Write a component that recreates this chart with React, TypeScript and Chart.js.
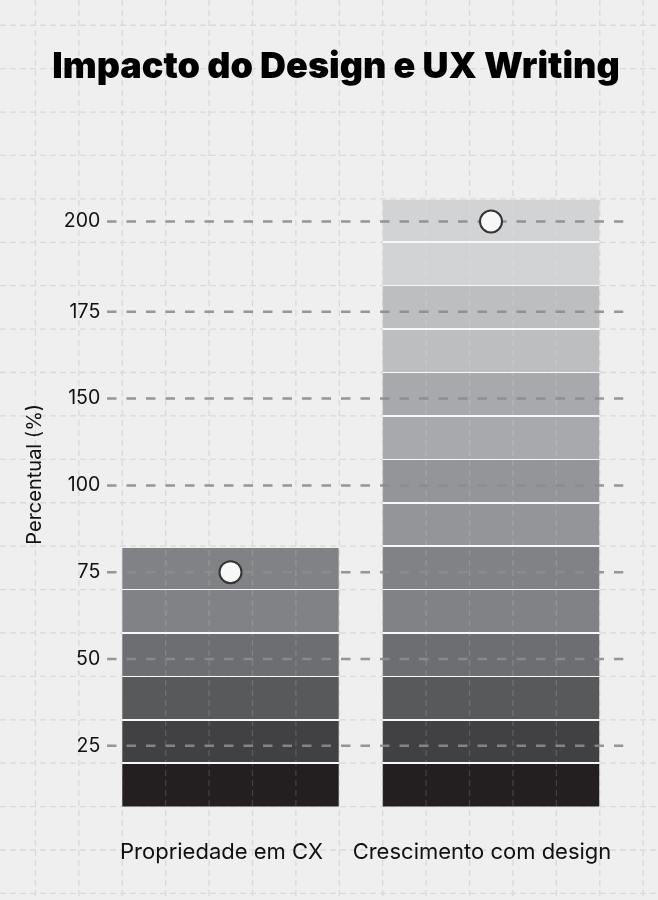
import React, { useEffect, useRef } from 'react';
import { Chart, registerables, LinearScale } from 'chart.js';

// ---- data ----
const categories = ['Propriedade em CX', 'Crescimento com design'];
const barValues = [82, 206];
const markerValues = [75, 200];
const yTickLabels = [25, 50, 75, 100, 150, 175, 200];
// slot (evenly spaced axis position) that each tick label occupies on the axis
const yTickSlots = [1, 2, 3, 4, 5, 6, 7.04];
const bandColors = [
  '#231f20', '#414042', '#58595b', '#6d6e71', '#808285', '#808285', '#939598',
  '#939598', '#a7a9ac', '#a7a9ac', '#bcbec0', '#bcbec0', '#d1d3d4', '#d1d3d4',
];
const bandStep = 12.5;
const yAxisMin = 7.5;
const yAxisMax = 222;
const SLOT = 25;

const FONT = 'Inter, "Noto Sans", sans-serif';

function toPos(v: number): number {
  const xs = yTickLabels;
  const ys = yTickSlots.map((s) => s * SLOT);
  let i = 0;
  while (i < xs.length - 2 && v > xs[i + 1]) i++;
  return ys[i] + ((v - xs[i]) * (ys[i + 1] - ys[i])) / (xs[i + 1] - xs[i]);
}
function fromPos(p: number): number {
  const xs = yTickLabels;
  const ys = yTickSlots.map((s) => s * SLOT);
  let i = 0;
  while (i < ys.length - 2 && p > ys[i + 1]) i++;
  return xs[i] + ((p - ys[i]) * (xs[i + 1] - xs[i])) / (ys[i + 1] - ys[i]);
}

class PiecewiseScale extends LinearScale {
  static id = 'piecewise';
  static defaults = LinearScale.defaults;
  buildTicks() {
    return yTickLabels.map((value) => ({ value }));
  }
  getPixelForValue(value: any) {
    if (value === null || value === undefined || Number.isNaN(value)) return NaN;
    return super.getPixelForValue(toPos(value));
  }
  getValueForPixel(pixel: number) {
    return fromPos(super.getValueForPixel(pixel));
  }
}

Chart.register(...registerables, PiecewiseScale as any);

function bandGeometry(chart: any) {
  const y = chart.scales.y;
  const bottom = y.getPixelForValue(yAxisMin);
  const h = bottom - y.getPixelForValue(yAxisMin + bandStep);
  return { bottom, h };
}

function bandFill(context: any) {
  const chart = context.chart;
  const { ctx, chartArea } = chart;
  if (!chartArea || !chart.scales.y) return bandColors[0];
  const { bottom, h } = bandGeometry(chart);
  const n = bandColors.length;
  const total = n * h;
  const g = ctx.createLinearGradient(0, bottom, 0, bottom - total);
  const s = 0.8 / total;
  bandColors.forEach((c, i) => {
    const a = i / n + (i > 0 ? s : 0);
    const b = (i + 1) / n - (i < n - 1 ? s : 0);
    g.addColorStop(a, c);
    g.addColorStop(b, c);
    if (i < n - 1) {
      g.addColorStop(b, '#f7f7f7');
      g.addColorStop((i + 1) / n + s, '#f7f7f7');
    }
  });
  return g;
}

function drawPaper(ctx: CanvasRenderingContext2D, x0: number, y0: number, h: number, w: number, H: number, color: string) {
  ctx.strokeStyle = color;
  ctx.lineWidth = 1.3;
  ctx.setLineDash([6, 4]);
  for (let x = x0 - Math.ceil(x0 / h) * h; x <= w; x += h) {
    ctx.beginPath();
    ctx.moveTo(x, 0);
    ctx.lineTo(x, H);
    ctx.stroke();
  }
  for (let y = y0 - Math.ceil(y0 / h) * h; y <= H; y += h) {
    ctx.beginPath();
    ctx.moveTo(0, y);
    ctx.lineTo(w, y);
    ctx.stroke();
  }
}

function paperAnchor(chart: any) {
  const { bottom, h } = bandGeometry(chart);
  const el: any = chart.getDatasetMeta(0).data[0];
  const x0 = el ? el.x - el.width / 2 : chart.chartArea.left;
  return { x0, y0: bottom, h };
}

const decor = {
  id: 'decor',
  beforeDraw(chart: any) {
    const { ctx, width, height } = chart;
    ctx.save();
    ctx.fillStyle = '#efefef';
    ctx.fillRect(0, 0, width, height);
    const { x0, y0, h } = paperAnchor(chart);
    drawPaper(ctx, x0, y0, h, width, height, '#d9d9d9');
    ctx.restore();
  },
  afterDatasetDraw(chart: any, args: any) {
    if (args.index !== 0) return;
    const { ctx, width, height, chartArea } = chart;
    const { x0, y0, h } = paperAnchor(chart);
    chart.getDatasetMeta(0).data.forEach((el: any) => {
      ctx.save();
      ctx.beginPath();
      const bot = Math.min(el.base, chartArea.bottom);
      ctx.rect(el.x - el.width / 2, el.y, el.width, bot - el.y);
      ctx.clip();
      drawPaper(ctx, x0, y0, h, width, height, 'rgba(255,255,255,0.15)');
      ctx.restore();
    });
    const y = chart.scales.y;
    ctx.save();
    ctx.strokeStyle = 'rgba(140,140,140,0.9)';
    ctx.lineWidth = 2.5;
    ctx.setLineDash([9.5, 10]);
    ctx.lineDashOffset = 12.75;
    y.ticks.forEach((_t: any, i: number) => {
      const py = y.getPixelForTick(i);
      ctx.beginPath();
      ctx.moveTo(chartArea.left, py);
      ctx.lineTo(chartArea.right + 2, py);
      ctx.stroke();
    });
    ctx.restore();
  },
};

export default function App() {
  const ref = useRef<HTMLCanvasElement | null>(null);
  useEffect(() => {
    if (!ref.current) return;
    const chart = new Chart(ref.current, {
      type: 'bar',
      data: {
        labels: categories,
        datasets: [
          {
            type: 'bar',
            data: barValues,
            backgroundColor: bandFill as any,
            borderWidth: 0,
            barPercentage: 0.831,
            categoryPercentage: 1,
            order: 1,
          } as any,
          {
            type: 'line',
            data: markerValues,
            showLine: false,
            pointRadius: 11,
            pointHoverRadius: 11,
            pointBorderWidth: 2,
            pointBorderColor: '#333333',
            pointBackgroundColor: '#f7f7f7',
            order: 0,
          } as any,
        ],
      },
      options: {
        responsive: true,
        maintainAspectRatio: false,
        animation: false,
        layout: { padding: { left: 14, right: 0, top: 0, bottom: 1 } },
        plugins: {
          legend: { display: false },
          tooltip: { enabled: false },
          title: {
            display: true,
            text: 'Impacto do Design e UX Writing',
            color: '#000',
            font: { family: FONT, size: 36, weight: '900' as any },
            padding: { top: 45.4, bottom: 53.4 },
          },
        },
        scales: {
          x: {
            type: 'category',
            grid: { display: false, drawTicks: false },
            border: { display: false },
            ticks: {
              color: '#111',
              font: { family: FONT, size: 22 },
              padding: 33,
              labelOffset: -9,
              maxRotation: 0,
              minRotation: 0,
              autoSkip: false,
            },
            afterFit: (s: any) => {
              s.paddingLeft = 0;
              s.paddingRight = 0;
            },
          } as any,
          y: {
            type: 'piecewise' as any,
            position: 'left',
            min: toPos(yAxisMin),
            max: toPos(yAxisMax),
            grid: { display: false, drawTicks: false },
            border: { display: false },
            ticks: {
              color: '#111',
              font: { family: FONT, size: 19.5 },
              padding: 0,
              autoSkip: false,
              callback: (v: any) => String(v),
            },
            title: {
              display: true,
              text: 'Percentual (%)',
              color: '#111',
              font: { family: FONT, size: 20 },
              padding: { top: 9, bottom: 0 },
            },
            afterFit: (s: any) => {
              s.width = 86.25;
            },
          } as any,
          yRight: {
            type: 'linear',
            position: 'right',
            grid: { display: false, drawTicks: false },
            border: { display: false },
            ticks: { display: false },
            afterFit: (s: any) => {
              s.width = 36.75;
            },
          },
        },
      },
      plugins: [decor],
    });
    return () => chart.destroy();
  }, []);
  return (
    <div style={{ position: 'absolute', left: 0, top: 0, width: 658, height: 900, background: '#efefef' }}>
      <canvas ref={ref} />
    </div>
  );
}
